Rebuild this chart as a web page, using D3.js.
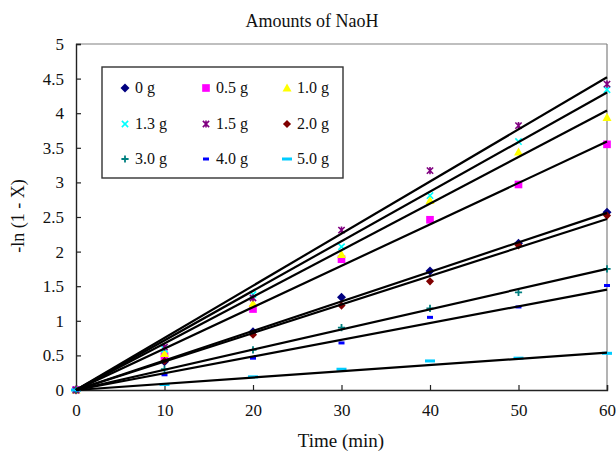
<!DOCTYPE html>
<html>
<head>
<meta charset="utf-8">
<script src="https://cdn.jsdelivr.net/npm/d3@7/dist/d3.min.js"></script>
<style>
  body { margin: 0; background: #fff; }
  text { font-family: "Liberation Serif", "DejaVu Serif", serif; fill: #111; }
</style>
</head>
<body>
<div id="chart"></div>
<script>
// time points (min)
var time = [0, 10, 20, 30, 40, 50, 60];
var seriesNames = ["0 g", "0.5 g", "1.0 g", "1.3 g", "1.5 g", "2.0 g", "3.0 g", "4.0 g", "5.0 g"];

// -ln(1 - X) for each NaOH amount
var g00 = [0, 0.41, 0.84, 1.34, 1.72, 2.12, 2.57];
var g05 = [0, 0.49, 1.17, 1.89, 2.46, 2.97, 3.55];
var g10 = [0, 0.53, 1.25, 1.96, 2.74, 3.44, 3.94];
var g13 = [0, 0.59, 1.38, 2.07, 2.81, 3.59, 4.34];
var g15 = [0, 0.62, 1.33, 2.31, 3.17, 3.82, 4.42];
var g20 = [0, 0.42, 0.80, 1.22, 1.57, 2.09, 2.52];
var g30 = [0, 0.30, 0.58, 0.90, 1.18, 1.41, 1.75];
var g40 = [0, 0.22, 0.46, 0.68, 1.05, 1.20, 1.51];
var g50 = [0, 0.08, 0.19, 0.30, 0.42, 0.46, 0.53];

// trend line value at t = 60 (lines go through origin)
var trendEnd = [2.56, 3.59, 4.04, 4.30, 4.52, 2.47, 1.75, 1.45, 0.54];

var xTicks = [0, 10, 20, 30, 40, 50, 60];
var yTicks = [0, 0.5, 1, 1.5, 2, 2.5, 3, 3.5, 4, 4.5, 5];

var allValues = [g00, g05, g10, g13, g15, g20, g30, g40, g50];
var colors = ["#000080", "#ff00ff", "#ffff00", "#00ffff", "#800080", "#800000", "#008080", "#0000ff", "#00ccff"];
var shapes = ["diamond", "square", "triangle", "cross", "star", "circle", "plus", "dash", "longdash"];

var width = 616, height = 454;
var margin = {left: 76, right: 9, top: 44, bottom: 64};

var svg = d3.select("#chart").append("svg")
  .attr("width", width)
  .attr("height", height);

var x = d3.scaleLinear().domain([0, 60]).range([margin.left, width - margin.right]);
var y = d3.scaleLinear().domain([0, 5]).range([height - margin.bottom, margin.top]);

// frame: top and right in grey
svg.append("line").attr("x1", x(0)).attr("x2", x(60)).attr("y1", y(5)).attr("y2", y(5))
  .attr("stroke", "#808080").attr("stroke-width", 1.2);
svg.append("line").attr("x1", x(60)).attr("x2", x(60)).attr("y1", y(5)).attr("y2", y(0))
  .attr("stroke", "#808080").attr("stroke-width", 1.2);

// axes with inside ticks
var xAxis = svg.append("g")
  .attr("transform", `translate(0,${y(0)})`)
  .call(d3.axisBottom(x).tickValues(xTicks).tickSize(-5).tickPadding(14));
var yAxis = svg.append("g")
  .attr("transform", `translate(${x(0)},0)`)
  .call(d3.axisLeft(y).tickValues(yTicks).tickSize(-5).tickPadding(12).tickFormat(d3.format("")));

[xAxis, yAxis].forEach(a => {
  a.select(".domain").attr("stroke", "#222").attr("stroke-width", 1.4);
  a.selectAll(".tick line").attr("stroke", "#222").attr("stroke-width", 1.2);
  a.selectAll("text").style("font-size", "17px").attr("fill", "#111");
});

function markerPath(shape, s) {
  var p = d3.path();
  switch (shape) {
    case "diamond":
      p.moveTo(0, -s); p.lineTo(s, 0); p.lineTo(0, s); p.lineTo(-s, 0); p.closePath(); break;
    case "square":
      p.rect(-s * 0.85, -s * 0.85, s * 1.7, s * 1.7); break;
    case "triangle":
      p.moveTo(0, -s); p.lineTo(s, s * 0.8); p.lineTo(-s, s * 0.8); p.closePath(); break;
    case "circle":
      p.moveTo(0, -s * 0.9); p.lineTo(s * 0.9, 0); p.lineTo(0, s * 0.9); p.lineTo(-s * 0.9, 0); p.closePath(); break;
  }
  return p.toString();
}

function drawMarker(g, shape, color, s) {
  if (shape === "cross") {
    g.append("path").attr("d", `M${-s*0.7},${-s*0.7}L${s*0.7},${s*0.7}M${-s*0.7},${s*0.7}L${s*0.7},${-s*0.7}`)
      .attr("stroke", color).attr("stroke-width", 1.6);
  } else if (shape === "star") {
    g.append("path").attr("d", `M${-s*0.7},${-s*0.7}L${s*0.7},${s*0.7}M${-s*0.7},${s*0.7}L${s*0.7},${-s*0.7}M0,${-s*0.8}L0,${s*0.8}`)
      .attr("stroke", color).attr("stroke-width", 1.6);
  } else if (shape === "plus") {
    g.append("path").attr("d", `M${-s*0.8},0L${s*0.8},0M0,${-s*0.8}L0,${s*0.8}`)
      .attr("stroke", color).attr("stroke-width", 1.8);
  } else if (shape === "dash") {
    g.append("rect").attr("x", -3).attr("y", -1.5).attr("width", 6).attr("height", 3).attr("fill", color);
  } else if (shape === "longdash") {
    g.append("rect").attr("x", -5).attr("y", -1.5).attr("width", 10).attr("height", 3).attr("fill", color);
  } else {
    g.append("path").attr("d", markerPath(shape, s)).attr("fill", color);
  }
}

// data markers
var marks = svg.append("g");
allValues.forEach((vals, i) => {
  vals.forEach((v, j) => {
    var g = marks.append("g").attr("transform", `translate(${x(time[j])},${y(v)})`);
    drawMarker(g, shapes[i], colors[i], 4.5);
  });
});

// trend lines through origin
var line = d3.line().x(d => x(d[0])).y(d => y(d[1]));
svg.append("g").selectAll("path")
  .data(trendEnd)
  .join("path")
  .attr("d", d => line([[0, 0], [60, d]]))
  .attr("fill", "none")
  .attr("stroke", "#000")
  .attr("stroke-width", 2.2);

// legend
var legend = svg.append("g");
legend.append("rect")
  .attr("x", 102).attr("y", 67).attr("width", 241).attr("height", 111)
  .attr("fill", "#fff").attr("stroke", "#333").attr("stroke-width", 1.4);
var colX = [125, 206, 287];
var rowY = [88, 124, 159];
seriesNames.forEach((name, i) => {
  var cx = colX[i % 3], cy = rowY[Math.floor(i / 3)];
  var g = legend.append("g").attr("transform", `translate(${cx},${cy})`);
  drawMarker(g, shapes[i], colors[i], 4.5);
  legend.append("text")
    .attr("x", cx + 10).attr("y", cy + 5)
    .style("font-size", "16px")
    .text(name);
});

// title and axis labels
svg.append("text")
  .attr("x", 312).attr("y", 27)
  .attr("text-anchor", "middle")
  .style("font-size", "18px")
  .text("Amounts of NaoH");

svg.append("text")
  .attr("x", 341).attr("y", 447)
  .attr("text-anchor", "middle")
  .style("font-size", "19px")
  .text("Time (min)");

svg.append("text")
  .attr("transform", "translate(24,216) rotate(-90)")
  .attr("text-anchor", "middle")
  .style("font-size", "18px")
  .text("-ln (1 - X)");
</script>
</body>
</html>
